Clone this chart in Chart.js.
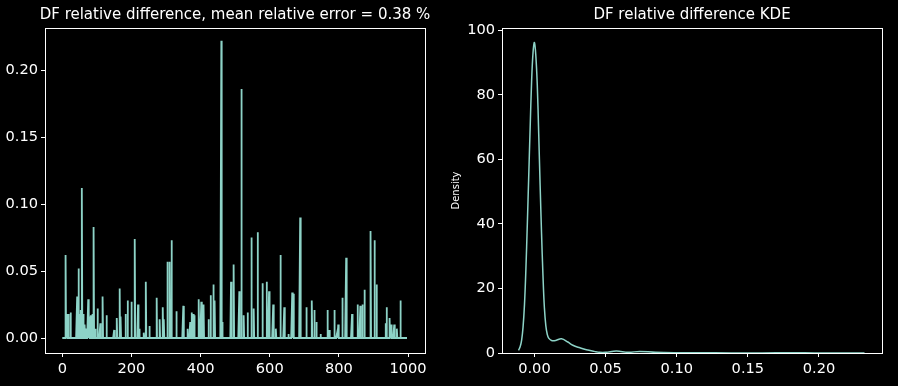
<!DOCTYPE html>
<html>
<head>
<meta charset="utf-8">
<script src="https://cdn.jsdelivr.net/npm/chart.js@4"></script>
<style>
  html, body { margin: 0; padding: 0; background: #000; }
  #wrap { position: relative; width: 898px; height: 386px; }
  .pane { position: absolute; top: 0; width: 449px; height: 386px; }
</style>
</head>
<body>
<div id="wrap">
  <div class="pane" style="left:0"><canvas id="diffChart"></canvas></div>
  <div class="pane" style="left:449px"><canvas id="kdeChart"></canvas></div>
</div>
<script>
// relative difference per row: only the non-zero rows (all others are 0)
const nRows = 1000;
const spikeIndex = [10, 14, 18, 24, 43, 47, 51, 54, 57, 61, 65, 68, 75, 78, 83, 87, 91, 96, 102, 110,
  117, 128, 150, 158, 166, 169, 183, 189, 200, 210, 219, 223, 236, 242, 252, 273, 282, 291, 294, 304,
  311, 316, 330, 350, 362, 370, 374, 379, 382, 395, 402, 409, 423, 429, 437, 441, 460, 463, 488, 496,
  512, 518, 525, 536, 547, 554, 565, 579, 591, 598, 610, 618, 631, 642, 654, 665, 668, 688, 706, 722,
  729, 735, 747, 767, 772, 787, 795, 798, 810, 821, 838, 854, 862, 868, 874, 892, 903, 909, 936, 938,
  947, 951, 960, 968, 978];
const spikeValue = [0.062, 0.018, 0.018, 0.019, 0.031, 0.052, 0.018, 0.021, 0.112, 0.018, 0.010, 0.007, 0.029, 0.016, 0.017, 0.018, 0.083, 0.007, 0.022, 0.011,
  0.031, 0.017, 0.006, 0.015, 0.037, 0.016, 0.018, 0.028, 0.027, 0.074, 0.025, 0.007, 0.004, 0.042, 0.009, 0.030, 0.014, 0.023, 0.014, 0.057,
  0.057, 0.073, 0.020, 0.024, 0.007, 0.012, 0.019, 0.018, 0.017, 0.029, 0.027, 0.025, 0.014, 0.032, 0.040, 0.028, 0.222, 0.012, 0.042, 0.055,
  0.035, 0.186, 0.017, 0.019, 0.075, 0.022, 0.079, 0.041, 0.042, 0.035, 0.025, 0.007, 0.062, 0.023, 0.003, 0.034, 0.033, 0.090, 0.023, 0.028,
  0.021, 0.012, 0.003, 0.021, 0.006, 0.021, 0.004, 0.010, 0.030, 0.060, 0.018, 0.025, 0.024, 0.025, 0.036, 0.080, 0.073, 0.040, 0.011, 0.023,
  0.015, 0.010, 0.010, 0.007, 0.028];

// KDE curve
const kdeX = [-0.0112, -0.010, -0.009, -0.008, -0.007, -0.006, -0.005, -0.004, -0.003, -0.002, -0.001, 0.0, 0.001, 0.002, 0.003,
  0.004, 0.005, 0.006, 0.007, 0.008, 0.009, 0.010, 0.012, 0.015, 0.019, 0.0235, 0.027, 0.032, 0.0365, 0.042, 0.046, 0.050,
  0.0576, 0.066, 0.074, 0.085, 0.104, 0.127, 0.150, 0.170, 0.183, 0.197, 0.215, 0.232];
const kdeDensity = [0.8, 2.0, 4.0, 8.0, 15, 26, 40, 55, 70, 84, 93, 96.2, 92, 83, 68,
  52, 37, 24, 14, 8.5, 5.8, 4.6, 3.9, 3.9, 4.4, 3.4, 2.4, 1.6, 1.0, 0.5, 0.2, 0.2,
  0.6, 0.2, 0.5, 0.2, 0.1, 0.05, 0.03, 0.04, 0.08, 0.03, 0.02, 0.01];

const diffTicks = [0, 200, 400, 600, 800, 1000];
const diffYTicks = [0, 0.05, 0.10, 0.15, 0.20];
const kdeXTicks = [0, 0.05, 0.10, 0.15, 0.20];
const kdeYTicks = [0, 20, 40, 60, 80, 100];

const lineColor = '#8dd3c7';
const fg = '#ffffff';
const fontFamily = '"DejaVu Sans", sans-serif';

const diffSeries = [];
for (let i = 0; i < nRows; i++) diffSeries.push({ x: i, y: 0 });
spikeIndex.forEach((idx, k) => { diffSeries[idx].y = spikeValue[k]; });

const kdePoints = kdeX.map((x, i) => ({ x: x, y: kdeDensity[i] }));

// frame + title, matplotlib style
const framePlugin = {
  id: 'frame',
  afterDraw(chart, args, opts) {
    const { ctx, chartArea: a } = chart;
    ctx.save();
    ctx.strokeStyle = fg;
    ctx.lineWidth = 1;
    ctx.strokeRect(Math.round(a.left) + 0.5, Math.round(a.top) + 0.5,
      Math.round(a.right - a.left), Math.round(a.bottom - a.top));
    ctx.fillStyle = fg;
    ctx.font = '15px ' + fontFamily;
    ctx.textAlign = 'center';
    ctx.textBaseline = 'middle';
    ctx.fillText(opts.text, (a.left + a.right) / 2, 15);
    ctx.restore();
  }
};

function axis(min, max, ticks, fmt, width, height) {
  return {
    type: 'linear',
    min: min,
    max: max,
    afterBuildTicks: s => { s.ticks = ticks.map(v => ({ value: v })); },
    afterFit: s => {
      if (width) s.width = width;
      if (height) s.height = height;
    },
    grid: { drawOnChartArea: false, drawTicks: true, tickLength: 4, tickColor: fg, lineWidth: 1 },
    border: { display: false },
    ticks: {
      color: fg,
      padding: 3,
      font: { family: fontFamily, size: 14.6 },
      callback: v => fmt(v),
      maxRotation: 0,
      autoSkip: false
    }
  };
}

new Chart(document.getElementById('diffChart'), {
  type: 'line',
  data: {
    datasets: [{
      data: diffSeries,
      borderColor: lineColor,
      borderWidth: 1.8,
      pointRadius: 0,
      tension: 0
    }]
  },
  options: {
    responsive: true,
    maintainAspectRatio: false,
    animation: false,
    layout: { padding: { top: 28, right: 24, left: 0, bottom: 0 } },
    plugins: {
      legend: { display: false },
      tooltip: { enabled: false },
      frame: { text: 'DF relative difference, mean relative error = 0.38 %' }
    },
    scales: {
      x: axis(-50, 1049, diffTicks, v => String(v), 0, 33),
      y: axis(-0.0112, 0.2316, diffYTicks, v => v.toFixed(2), 45, 0)
    }
  },
  plugins: [framePlugin]
});

const kdeY = axis(0, 100.7, kdeYTicks, v => String(v), 53, 0);
kdeY.title = { display: true, text: 'Density', color: fg, font: { family: fontFamily, size: 10 }, padding: { top: 1, bottom: 0 } };

new Chart(document.getElementById('kdeChart'), {
  type: 'line',
  data: {
    datasets: [{
      data: kdePoints,
      borderColor: lineColor,
      borderWidth: 1.5,
      pointRadius: 0,
      tension: 0.4
    }]
  },
  options: {
    responsive: true,
    maintainAspectRatio: false,
    animation: false,
    layout: { padding: { top: 28, right: 16, left: 0, bottom: 0 } },
    plugins: {
      legend: { display: false },
      tooltip: { enabled: false },
      frame: { text: 'DF relative difference KDE' }
    },
    scales: {
      x: axis(-0.0228, 0.2443, kdeXTicks, v => v.toFixed(2), 0, 33),
      y: kdeY
    }
  },
  plugins: [framePlugin]
});
</script>
</body>
</html>
